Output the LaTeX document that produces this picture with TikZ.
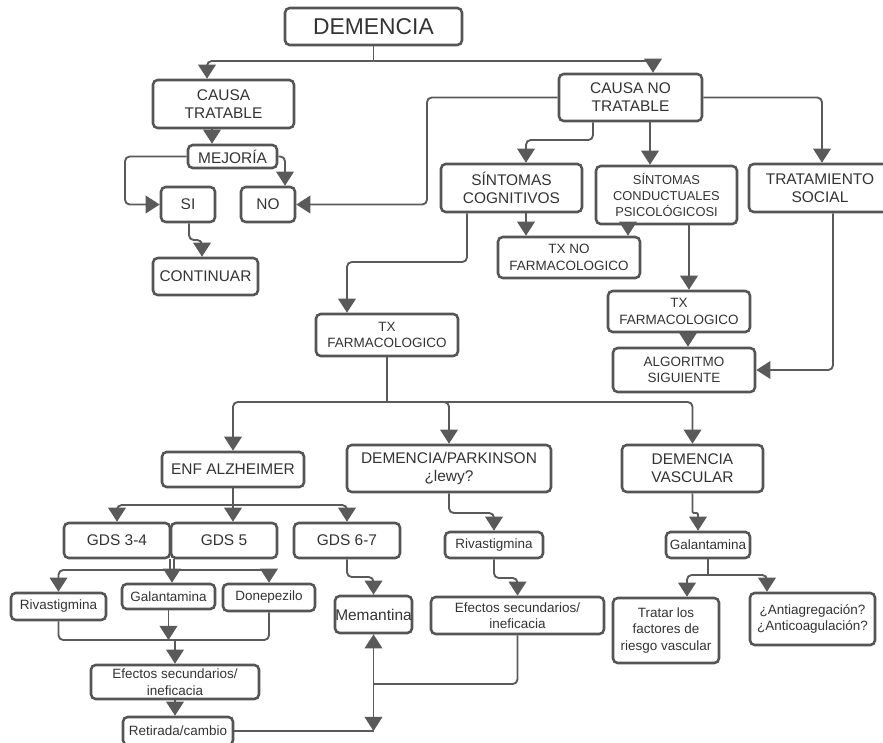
\documentclass[tikz,border=0pt]{standalone}
\usepackage{fontspec}
\setmainfont{Liberation Sans}
\usetikzlibrary{arrows.meta}
\definecolor{grisborde}{HTML}{555555}
\definecolor{grislinea}{HTML}{5A5A5A}
\definecolor{gristexto}{HTML}{333333}
% caja por sus esquinas: [opciones]{nombre}{x1}{y1}{x2}{y2}{texto}
\newcommand{\caja}[7][]{%
  \node[caja, minimum width={(#5-#3)*0.03cm}, minimum height={(#6-#4)*0.03cm}, #1]
    (#2) at ({(#3+#5)/2}, {(#4+#6)/2}) {#7};}
\begin{document}
\begin{tikzpicture}[x=0.03cm, y=-0.03cm,
    caja/.style={draw=grisborde, line width=2.2pt, rounded corners=4pt, align=center,
      inner sep=0pt, text=gristexto, font=\fontsize{13.2}{15.5}\selectfont},
    chica/.style={font=\fontsize{11.5}{14}\selectfont},
    linea/.style={draw=grislinea, line width=1.6pt, rounded corners=4pt},
    flecha/.style={linea, -{Triangle[width=15pt,length=12pt]}}]
  \useasboundingbox (0,0) rectangle (883,742);
  \clip (0,0) rectangle (883,742);

  % cajas de arriba
  \caja[font=\fontsize{19.5}{22}\selectfont]{dem}{285}{8}{462}{45}{DEMENCIA}
  \caja{ct}{153}{80}{294}{128}{CAUSA\\TRATABLE}
  \caja{mej}{188}{145}{277}{168}{MEJORÍA}
  \caja{si}{161}{187}{215}{222}{SI}
  \caja{no}{241}{187}{295}{222}{NO}
  \caja{cont}{153}{258}{258}{295}{CONTINUAR}
  \caja{cnt}{559}{74}{702}{121}{CAUSA NO\\TRATABLE}
  \caja{scog}{441}{164}{582}{212}{SÍNTOMAS\\COGNITIVOS}
  \caja[font=\fontsize{11}{13.5}\selectfont]{scond}{596}{166}{737}{224}{SÍNTOMAS\\CONDUCTUALES\\PSICOLÓGICOSI}
  \caja{tsoc}{749}{164}{891}{212}{TRATAMIENTO\\SOCIAL}
  \caja[chica]{txno}{498}{237}{640}{278}{TX NO\\FARMACOLOGICO}
  \caja[chica]{txf2}{608}{291}{750}{332}{TX\\FARMACOLOGICO}
  \caja[chica]{alg}{613}{348}{755}{392}{ALGORITMO\\SIGUIENTE}
  \caja[chica]{txf1}{316}{314}{458}{356}{TX\\FARMACOLOGICO}

  % cajas de abajo
  \caja{enf}{162}{452}{304}{487}{ENF ALZHEIMER}
  \caja{dpk}{347}{445}{551}{492}{DEMENCIA/PARKINSON\\¿lewy?}
  \caja{dvas}{622}{445}{763}{492}{DEMENCIA\\VASCULAR}
  \caja{gds34}{64}{523}{170}{558}{GDS 3-4}
  \caja{gds5}{171}{523}{277}{558}{GDS 5}
  \caja{gds67}{294}{523}{400}{558}{GDS 6-7}
  \caja[chica]{riv1}{11}{593}{106}{620}{Rivastigmina}
  \caja[chica]{gal1}{122}{584}{215}{609}{Galantamina}
  \caja[chica]{don}{223}{584}{315}{611}{Donepezilo}
  \caja[chica]{efe1}{91}{665}{259}{699}{Efectos secundarios/\\ineficacia}
  \caja[chica]{ret}{123}{717}{233}{745}{Retirada/cambio}
  \caja{mem}{335}{596}{412}{633}{Memantina}
  \caja[chica]{riv2}{445}{532}{543}{558}{Rivastigmina}
  \caja[chica]{efe2}{431}{597}{604}{634}{Efectos secundarios/\\ineficacia}
  \caja[chica]{gal2}{666}{532}{750}{558}{Galantamina}
  \caja[chica]{trat}{613}{598}{719}{663}{Tratar los\\factores de\\riesgo vascular}
  \caja[chica]{anti}{750}{593}{875}{645}{¿Antiagregación?\\¿Anticoagulación?}

  % demencia
  \draw[linea] (dem.south) -- (dem.south |- 0,61);
  \draw[flecha] (dem.south |- 0,61) -| (207,0 |- ct.north);
  \draw[flecha] (dem.south |- 0,61) -| (653,0 |- cnt.north);

  % causa tratable
  \draw[flecha] (212,0 |- ct.south) -- (212,0 |- mej.north);
  \draw[flecha] (mej.west) -- (125,0 |- mej.west) |- (si.west);
  \draw[flecha] (mej.east) -| (285,0 |- no.north);
  \draw[flecha] (189,0 |- si.south) -- (189,240) -| (202,0 |- cont.north);

  % causa no tratable
  \draw[flecha] (cnt.west) -- (427,0 |- cnt.west) |- (no.east);
  \draw[flecha] (593,0 |- cnt.south) |- (526,140) -- (526,0 |- scog.north);
  \draw[flecha] (650,0 |- cnt.south) -- (650,0 |- scond.north);
  \draw[flecha] (cnt.east) -| (822,0 |- tsoc.north);
  \draw[flecha] (526,0 |- scog.south) -- (526,0 |- txno.north);
  \draw[flecha] (628,0 |- scond.south) -- (628,0 |- txno.north);
  \draw[flecha] (689,0 |- scond.south) -- (689,0 |- txf2.north);
  \draw[flecha] (688,0 |- txf2.south) -- (688,0 |- alg.north);
  \draw[flecha] (833,0 |- tsoc.south) |- (alg.east);
  \draw[flecha] (467,0 |- scog.south) |- (347,262) -- (347,0 |- txf1.north);

  % tx farmacologico
  \draw[linea] (txf1.south) -- (txf1.south |- 0,402);
  \foreach \dest in {enf, dpk, dvas}
    \draw[flecha] (txf1.south |- 0,402) -| (\dest.north);

  % alzheimer
  \draw[linea] (enf.south) -- (enf.south |- 0,505);
  \draw[flecha] (enf.south |- 0,505) -| (gds34.north);
  \draw[flecha] (enf.south |- 0,505) -- (enf.south |- gds5.north);
  \draw[flecha] (enf.south |- 0,505) -| (gds67.north);
  \draw[linea] (170,0 |- gds34.south) -- (170,570);
  \draw[linea] (174,0 |- gds5.south) -- (174,570);
  \coordinate (jg) at (172,570);
  \draw[flecha] (jg) -| (riv1.north);
  \draw[flecha] (jg) -- (jg |- gal1.north);
  \draw[flecha] (jg) -| (don.north);
  \coordinate (je) at (efe1.north |- 0,640);
  \draw[linea] (riv1.south) |- (je);
  \draw[linea] (don.south) |- (je);
  \draw[flecha] (gal1.south) -- (gal1.south |- je);
  \draw[flecha] (je) -- (efe1.north);
  \draw[flecha] (efe1.south) -- (efe1.south |- ret.north);
  \draw[flecha] (gds67.south) -- (gds67.south |- 0,577) -| (mem.north);

  % parkinson
  \draw[flecha] (dpk.south) -- (dpk.south |- 0,513) -| (riv2.north);
  \draw[flecha] (riv2.south) -- (riv2.south |- 0,578) -| (efe2.north);
  \coordinate (jm) at (mem.south |- 0,684);
  \draw[linea] (efe2.south) |- (jm);
  \draw[flecha] (jm) -- (mem.south);
  \draw[flecha] (jm) -- (mem.south |- ret.east);
  \draw[linea] (ret.east) -- (mem.south |- ret.east);

  % vascular
  \draw[flecha, rounded corners=1pt] (dvas.south) -- (dvas.south |- 0,513) -| (698,0 |- gal2.north);
  \draw[linea] (gal2.south) -- (gal2.south |- 0,575);
  \draw[flecha] (gal2.south |- 0,575) -| (687,0 |- trat.north);
  \draw[flecha] (gal2.south |- 0,575) -| (767,0 |- anti.north);
\end{tikzpicture}
\end{document}
